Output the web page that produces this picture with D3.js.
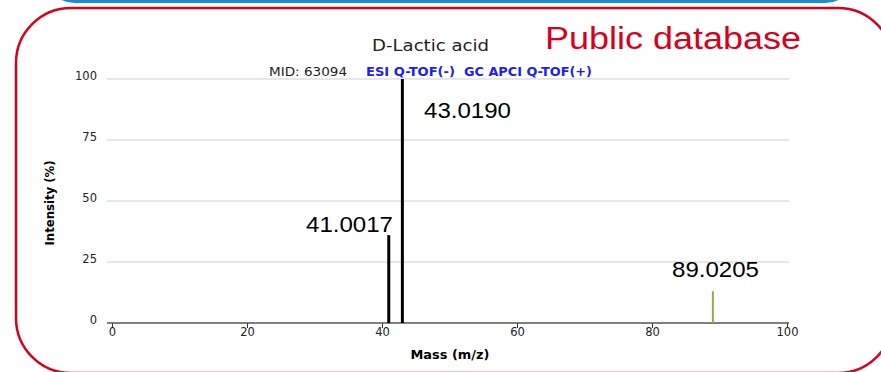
<!DOCTYPE html>
<html>
<head>
<meta charset="utf-8">
<script src="https://cdn.jsdelivr.net/npm/d3@7"></script>
<style>
  body { margin: 0; background: #fff; }
  svg { display: block; }
</style>
</head>
<body>
<div id="chart"></div>
<script>
// peaks
const peakMz = [41.0017, 43.0190, 89.0205];
const peakIntensity = [36, 100, 13];
const peakColors = ['#000', '#000', '#8fae4e'];
const peakLabels = ['41.0017', '43.0190', '89.0205'];
const xTicks = [0, 20, 40, 60, 80, 100];
const yTicks = [0, 25, 50, 75, 100];

const W = 881, H = 372;

const svg = d3.select('#chart').append('svg')
  .attr('xmlns', 'http://www.w3.org/2000/svg')
  .attr('width', W)
  .attr('height', H);

// slide frames
svg.append('rect')
  .attr('x', 45).attr('y', -300).attr('width', 810).attr('height', 301.5)
  .attr('rx', 30)
  .attr('fill', 'none').attr('stroke', '#1b8ad9').attr('stroke-width', 3);
svg.append('rect')
  .attr('x', 16).attr('y', 8).attr('width', 877).attr('height', 365)
  .attr('rx', 55)
  .attr('fill', 'none').attr('stroke', '#d9001b').attr('stroke-width', 2.5);

let x = d3.scaleLinear().domain([0, 100]).range([112, 787]);
let y = d3.scaleLinear().domain([0, 100]).range([323, 79]);

// gridlines
svg.append('g')
  .selectAll('line')
  .data(yTicks.filter(d => d > 0))
  .enter().append('line')
  .attr('x1', 107).attr('x2', 789)
  .attr('y1', d => y(d)).attr('y2', d => y(d))
  .attr('stroke', '#cfcfcf').attr('stroke-width', 1);

// y labels
svg.append('g')
  .selectAll('text')
  .data(yTicks)
  .enter().append('text')
  .attr('x', 97)
  .attr('y', d => y(d) + 1)
  .attr('text-anchor', 'end')
  .style('font-family', 'DejaVu Sans')
  .style('font-size', '11.5px')
  .attr('fill', '#222')
  .text(d => d);

// x axis
let xAxis = d3.axisBottom(x).tickValues(xTicks).tickSize(5).tickPadding(0);
let gx = svg.append('g')
  .attr('transform', 'translate(0,' + y(0) + ')')
  .call(xAxis);
gx.select('.domain').remove();
gx.selectAll('.tick line').attr('stroke', '#333');
gx.selectAll('.tick text')
  .style('font-family', 'DejaVu Sans')
  .style('font-size', '11.5px')
  .attr('fill', '#222');
svg.append('line')
  .attr('x1', 107).attr('x2', 789)
  .attr('y1', y(0)).attr('y2', y(0))
  .attr('stroke', '#555').attr('stroke-width', 1.5);

// peaks
svg.append('g')
  .selectAll('line')
  .data(peakMz)
  .enter().append('line')
  .attr('x1', d => x(d)).attr('x2', d => x(d))
  .attr('y1', y(0)).attr('y2', (d, i) => y(peakIntensity[i]))
  .attr('stroke', (d, i) => peakColors[i])
  .attr('stroke-width', (d, i) => i == 2 ? 2 : 3);

// axis titles
svg.append('text')
  .attr('x', 450).attr('y', 359)
  .attr('text-anchor', 'middle')
  .attr('textLength', 79).attr('lengthAdjust', 'spacingAndGlyphs')
  .style('font-family', 'DejaVu Sans').style('font-weight', 'bold').style('font-size', '12.5px')
  .text('Mass (m/z)');
svg.append('text')
  .attr('transform', 'translate(54,203) rotate(-90)')
  .attr('text-anchor', 'middle')
  .attr('textLength', 85).attr('lengthAdjust', 'spacingAndGlyphs')
  .style('font-family', 'DejaVu Sans').style('font-weight', 'bold').style('font-size', '12px')
  .text('Intensity (%)');

// title + subtitle
svg.append('text')
  .attr('x', 372).attr('y', 51)
  .attr('textLength', 117).attr('lengthAdjust', 'spacingAndGlyphs')
  .style('font-family', 'DejaVu Sans').style('font-size', '16px')
  .attr('fill', '#222')
  .text('D-Lactic acid');
svg.append('text')
  .attr('x', 269).attr('y', 76)
  .attr('textLength', 78).attr('lengthAdjust', 'spacingAndGlyphs')
  .style('font-family', 'DejaVu Sans').style('font-size', '12.5px')
  .attr('fill', '#222')
  .text('MID: 63094');
svg.append('text')
  .attr('x', 366).attr('y', 76)
  .attr('textLength', 89).attr('lengthAdjust', 'spacingAndGlyphs')
  .style('font-family', 'DejaVu Sans').style('font-size', '12px').style('font-weight', 'bold')
  .attr('fill', '#2020ee')
  .text('ESI Q-TOF(-)');
svg.append('text')
  .attr('x', 464).attr('y', 76)
  .attr('textLength', 128).attr('lengthAdjust', 'spacingAndGlyphs')
  .style('font-family', 'DejaVu Sans').style('font-size', '12px').style('font-weight', 'bold')
  .attr('fill', '#2020ee')
  .text('GC APCI Q-TOF(+)');

// peak annotations
let annX = [393, 424, 672];
let annAnchor = ['end', 'start', 'start'];
let annY = [232, 118, 277];
svg.append('g')
  .selectAll('text')
  .data(peakLabels)
  .enter().append('text')
  .attr('x', (d, i) => annX[i])
  .attr('y', (d, i) => annY[i])
  .attr('text-anchor', (d, i) => annAnchor[i])
  .attr('textLength', 87)
  .attr('lengthAdjust', 'spacingAndGlyphs')
  .style('font-family', 'Liberation Sans, Arial')
  .style('font-size', '22px')
  .attr('fill', '#000')
  .text(d => d);

svg.append('text')
  .attr('x', 545).attr('y', 49)
  .attr('textLength', 256)
  .attr('lengthAdjust', 'spacingAndGlyphs')
  .style('font-family', 'Liberation Sans, Arial')
  .style('font-size', '31px')
  .attr('fill', '#d9001b')
  .text('Public database');
</script>
</body>
</html>
